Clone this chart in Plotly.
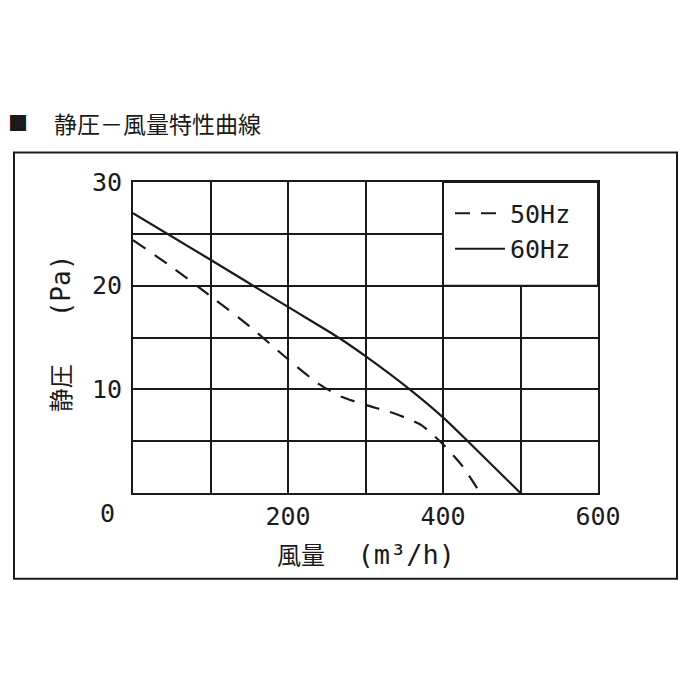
import plotly.graph_objects as go

# ---- data ----
flow_50 = [0, 50, 100, 150, 200, 240, 270, 300, 340, 373, 400, 425, 448]
pres_50 = [24.4, 21.8, 19.0, 16.1, 12.9, 10.5, 9.25, 8.5, 7.6, 6.5, 4.7, 2.6, 0]

flow_60 = [0, 100, 200, 265, 300, 357, 400, 432, 500]
pres_60 = [27.0, 22.5, 17.95, 15.0, 13.2, 10.0, 7.3, 5.0, 0]

x_grid = [0, 100, 200, 300, 400, 500, 600]
x_labels = ["", "", "200", "", "400", "", "600"]
y_grid = [0, 5, 10, 15, 20, 25, 30]
y_labels = ["", "", "10", "", "20", "", "30"]

series_names = ["50Hz", "60Hz"]
title_text = "静圧－風量特性曲線"

MONO = "DejaVu Sans Mono"
CJK = "Noto Sans CJK JP"
INK = "#1a1a1a"

x_title = ("風量<span style='font-family:%s;font-size:27px'>  (m³/h)</span>" % MONO)
y_title = ("静圧<span style='font-family:%s;font-size:26px'>   (Pa)</span>" % MONO)

fig = go.Figure()
fig.add_trace(go.Scatter(x=flow_50, y=pres_50, mode="lines", name=series_names[0],
                         line=dict(color=INK, width=2.2, dash="15px,11px",
                                   shape="spline", smoothing=0.6)))
fig.add_trace(go.Scatter(x=flow_60, y=pres_60, mode="lines", name=series_names[1],
                         line=dict(color=INK, width=2.2, shape="spline", smoothing=0.8)))

# the page is offset by the browser's 8px body margin
OFF = 8
FW = FH = 700 - OFF
# plot area in reference pixels: x 133..598, y 181.5..493
L, R, T, B = 133 - OFF, 598 - OFF, 181.5 - OFF, 493 - OFF
W, H = R - L, B - T
def px(x):
    return (x - OFF - L) / W
def py(y):
    return (B - (y - OFF)) / H

shapes = [
    # legend box (covers grid in the top-right region)
    dict(type="rect", xref="x", yref="y", x0=400, x1=600, y0=20, y1=30,
         fillcolor="white", line=dict(color=INK, width=2), layer="above"),
    # outer frame
    dict(type="rect", xref="paper", yref="paper", x0=px(14), x1=px(677),
         y0=py(579), y1=py(152), line=dict(color=INK, width=2)),
]

annotations = [
    dict(text="■", xref="paper", yref="paper", x=px(17.5), y=py(122),
         showarrow=False, font=dict(family=CJK, size=20, color=INK),
         xanchor="center", yanchor="middle"),
    dict(text=title_text, xref="paper", yref="paper", x=px(52), y=py(122),
         showarrow=False, font=dict(family=CJK, size=23, color=INK),
         xanchor="left", yanchor="middle"),
    dict(text="0", xref="paper", yref="paper", x=px(107), y=py(514),
         showarrow=False, font=dict(family=MONO, size=25, color=INK),
         xanchor="center", yanchor="middle"),
    dict(text=x_title, xref="paper", yref="paper", x=px(366), y=py(554),
         showarrow=False, font=dict(family=CJK, size=24, color=INK),
         xanchor="center", yanchor="middle"),
    dict(text=y_title, xref="paper", yref="paper", x=px(59), y=py(333),
         showarrow=False, textangle=-90, font=dict(family=CJK, size=24, color=INK),
         xanchor="center", yanchor="middle"),
]

fig.update_layout(
    width=FW, height=FH,
    margin=dict(l=L, r=FW - R, t=T, b=FH - B, pad=0),
    paper_bgcolor="white", plot_bgcolor="white",
    shapes=shapes, annotations=annotations,
    showlegend=True,
    legend=dict(x=px(450), y=py(190), xanchor="left", yanchor="top",
                bgcolor="rgba(0,0,0,0)", borderwidth=0,
                font=dict(family=MONO, size=25, color=INK),
                itemwidth=50, tracegroupgap=0),
    xaxis=dict(range=[0, 600], tickmode="array", tickvals=x_grid, ticktext=x_labels,
               showgrid=True, gridcolor=INK, gridwidth=2,
               showline=True, linecolor=INK, linewidth=2, mirror=True,
               zeroline=False, ticks="outside", ticklen=0, tickcolor="rgba(0,0,0,0)",
               tickfont=dict(family=MONO, size=25, color=INK), fixedrange=True),
    yaxis=dict(range=[0, 30], tickmode="array", tickvals=y_grid, ticktext=y_labels,
               showgrid=True, gridcolor=INK, gridwidth=2,
               showline=True, linecolor=INK, linewidth=2, mirror=True,
               zeroline=False, ticks="outside", ticklen=4, tickcolor="rgba(0,0,0,0)",
               tickfont=dict(family=MONO, size=25, color=INK), fixedrange=True),
)

fig.write_html("out.html")
